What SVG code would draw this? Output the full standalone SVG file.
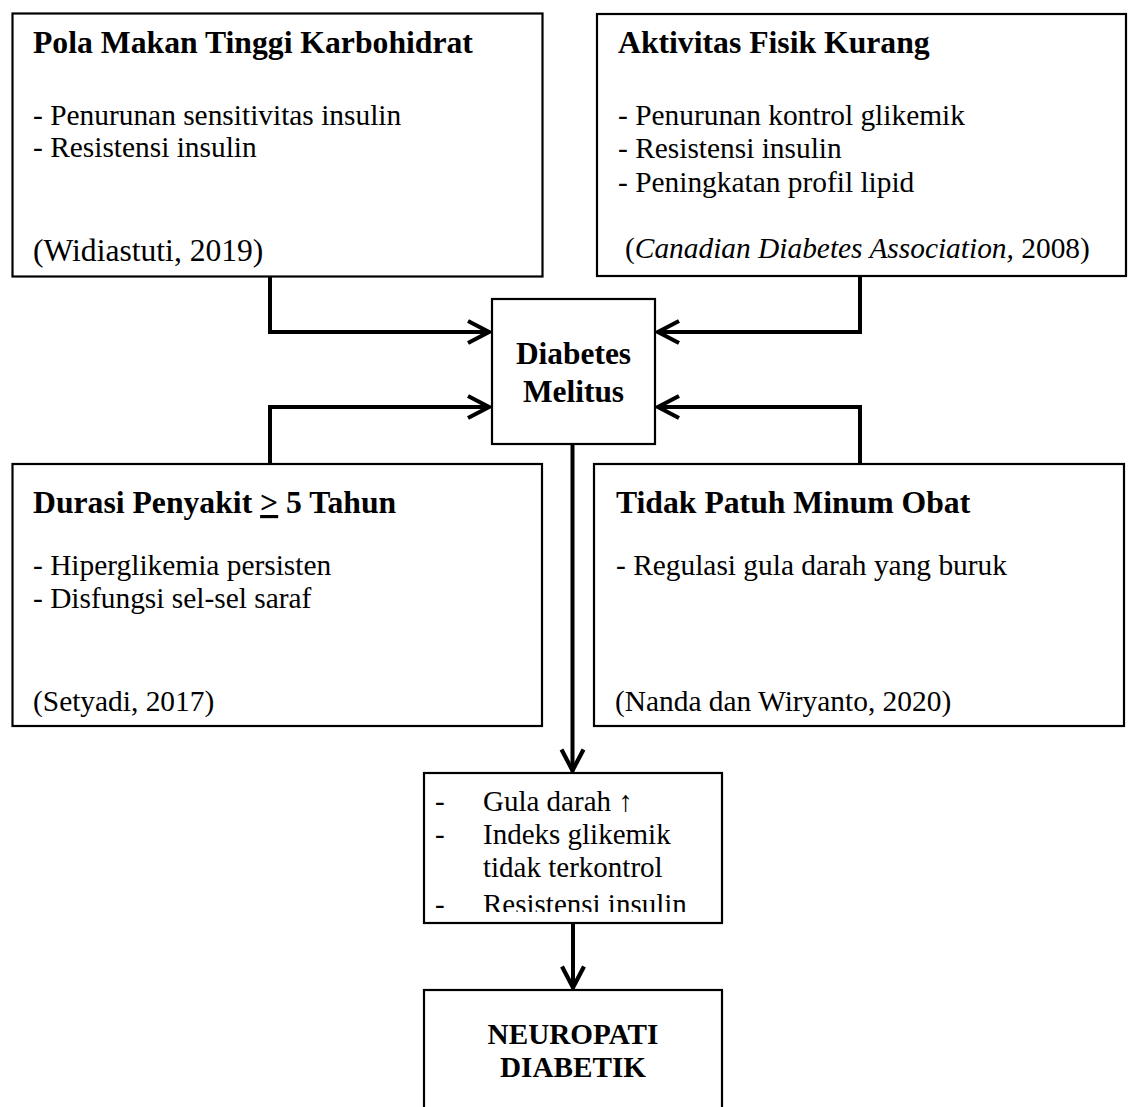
<svg xmlns="http://www.w3.org/2000/svg" width="1128" height="1107" viewBox="0 0 1128 1107">
<style>
  .box { fill: #ffffff; stroke: #000000; stroke-width: 2.2; }
  .conn { fill: none; stroke: #000000; stroke-width: 4; }
  .t { font-family: "Liberation Serif", "Times New Roman", serif; fill: #000000; }
  .title { font-weight: bold; font-size: 31.7px; }
  .body { font-size: 29.4px; }
  .cite { font-size: 29.4px; }
  .center { text-anchor: middle; font-weight: bold; }
</style>
<defs>
  <marker id="arrow" markerUnits="userSpaceOnUse" viewBox="-26 -14 28 28" refX="0" refY="0" markerWidth="28" markerHeight="28" orient="auto">
    <path d="M-22,-11 L-1,0 L-22,11" fill="none" stroke="#000000" stroke-width="4.2" stroke-linejoin="miter"/>
  </marker>
  <clipPath id="clipSmall">
    <rect x="424" y="773" width="298" height="139"/>
  </clipPath>
</defs>
<rect x="0" y="0" width="1128" height="1107" fill="#ffffff"/>

<g id="connectors">
  <path class="conn" d="M270,277 V332 H490" marker-end="url(#arrow)"/>
  <path class="conn" d="M860,276 V332 H657" marker-end="url(#arrow)"/>
  <path class="conn" d="M270,464 V407 H490" marker-end="url(#arrow)"/>
  <path class="conn" d="M860,464 V407 H657" marker-end="url(#arrow)"/>
  <path class="conn" d="M572.5,444 V771.5" marker-end="url(#arrow)"/>
  <path class="conn" d="M573,923 V988.5" marker-end="url(#arrow)"/>
</g>

<g id="node-pola-makan">
  <rect class="box" x="12.5" y="13.5" width="530" height="263"/>
  <text class="t title" x="33" y="53">Pola Makan Tinggi Karbohidrat</text>
  <text class="t body" x="33" y="125">- Penurunan sensitivitas insulin</text>
  <text class="t body" x="33" y="157">- Resistensi insulin</text>
  <text class="t cite" x="33" y="261" style="font-size:31.6px">(Widiastuti, 2019)</text>
</g>

<g id="node-aktivitas">
  <rect class="box" x="597" y="14" width="529" height="262"/>
  <text class="t title" x="618" y="53">Aktivitas Fisik Kurang</text>
  <text class="t body" x="618" y="125">- Penurunan kontrol glikemik</text>
  <text class="t body" x="618" y="158">- Resistensi insulin</text>
  <text class="t body" x="618" y="192">- Peningkatan profil lipid</text>
  <text class="t cite" x="625" y="258">(<tspan font-style="italic">Canadian Diabetes Association,</tspan> 2008)</text>
</g>

<g id="node-diabetes">
  <rect class="box" x="492" y="299" width="163" height="145"/>
  <text class="t center" x="573.5" y="364" style="font-size:31.4px">Diabetes</text>
  <text class="t center" x="573.5" y="402" style="font-size:31.4px">Melitus</text>
</g>

<g id="node-durasi">
  <rect class="box" x="12.5" y="464" width="529.5" height="262"/>
  <text class="t title" x="33" y="513">Durasi Penyakit <tspan text-decoration="underline">&gt;</tspan> 5 Tahun</text>
  <text class="t body" x="33" y="575">- Hiperglikemia persisten</text>
  <text class="t body" x="33" y="608">- Disfungsi sel-sel saraf</text>
  <text class="t cite" x="33" y="711">(Setyadi, 2017)</text>
</g>

<g id="node-tidak-patuh">
  <rect class="box" x="594" y="464" width="530" height="262"/>
  <text class="t title" x="616" y="513">Tidak Patuh Minum Obat</text>
  <text class="t body" x="616" y="575">- Regulasi gula darah yang buruk</text>
  <text class="t cite" x="615" y="711">(Nanda dan Wiryanto, 2020)</text>
</g>

<g id="node-gejala">
  <rect class="box" x="424" y="773" width="298" height="150"/>
  <g clip-path="url(#clipSmall)">
    <text class="t body" x="435" y="811" style="font-size:29px">-</text>
    <text class="t body" x="483" y="811" style="font-size:29px">Gula darah ↑</text>
    <text class="t body" x="435" y="844" style="font-size:29px">-</text>
    <text class="t body" x="483" y="844" style="font-size:29px">Indeks glikemik</text>
    <text class="t body" x="483" y="877" style="font-size:29px">tidak terkontrol</text>
    <text class="t body" x="435" y="914" style="font-size:29px">-</text>
    <text class="t body" x="483" y="914" style="font-size:29px">Resistensi insulin</text>
  </g>
</g>

<g id="node-neuropati">
  <rect class="box" x="424" y="990" width="298" height="140"/>
  <text class="t center" x="573" y="1044" style="font-size:29.2px">NEUROPATI</text>
  <text class="t center" x="573" y="1077" style="font-size:29.2px">DIABETIK</text>
</g>
</svg>
